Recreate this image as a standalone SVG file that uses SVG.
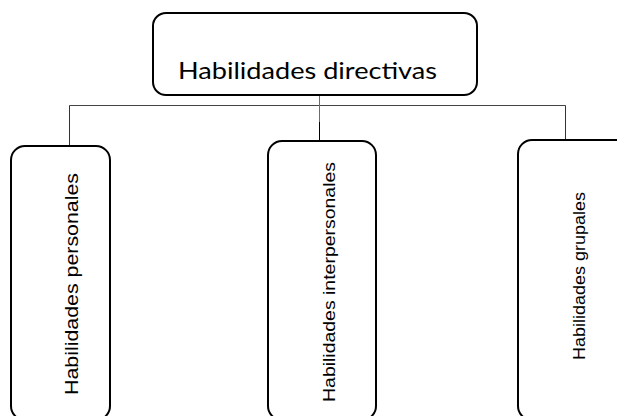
<svg xmlns="http://www.w3.org/2000/svg" width="617" height="416" viewBox="0 0 617 416">
<style>
.box{fill:#fff;stroke:#000;stroke-width:2}
.top{font-family:Lato,"Open Sans",sans-serif;fill:#000}
.lbl{font-family:"Liberation Sans",Arial,sans-serif;fill:#000}
.conn{fill:none;stroke-width:1}
</style>
<rect width="617" height="416" fill="#fff"/>
<g id="connectors">
<path class="conn" stroke="#444" d="M69.5,105.5 H565.5"/>
<path class="conn" stroke="#333" d="M69.5,105.5 V146"/>
<path class="conn" stroke="#333" d="M565.5,105.5 V140"/>
<path class="conn" stroke="#4a6fb5" d="M319.5,95 V122"/>
<path class="conn" stroke="#000" d="M319.5,122 V142"/>
</g>
<g id="node-directivas">
<rect class="box" x="153" y="13" width="324" height="82" rx="13"/>
<text class="top" x="178" y="79" font-size="24" textLength="259" lengthAdjust="spacingAndGlyphs">Habilidades directivas</text>
</g>
<g id="node-personales">
<rect class="box" x="11" y="146" width="99" height="274" rx="14"/>
<text class="lbl" font-size="18" text-anchor="middle" transform="translate(78 284) rotate(-90)" textLength="222" lengthAdjust="spacingAndGlyphs">Habilidades personales</text>
</g>
<g id="node-interpersonales">
<rect class="box" x="268" y="141" width="108" height="279" rx="14"/>
<text class="lbl" font-size="16" text-anchor="middle" transform="translate(334.5 282) rotate(-90)" textLength="240" lengthAdjust="spacingAndGlyphs">Habilidades interpersonales</text>
</g>
<g id="node-grupales">
<rect class="box" x="518" y="140" width="120" height="280" rx="14"/>
<text class="lbl" font-size="16" text-anchor="middle" transform="translate(585 276) rotate(-90)" textLength="168" lengthAdjust="spacingAndGlyphs">Habilidades grupales</text>
</g>
</svg>
